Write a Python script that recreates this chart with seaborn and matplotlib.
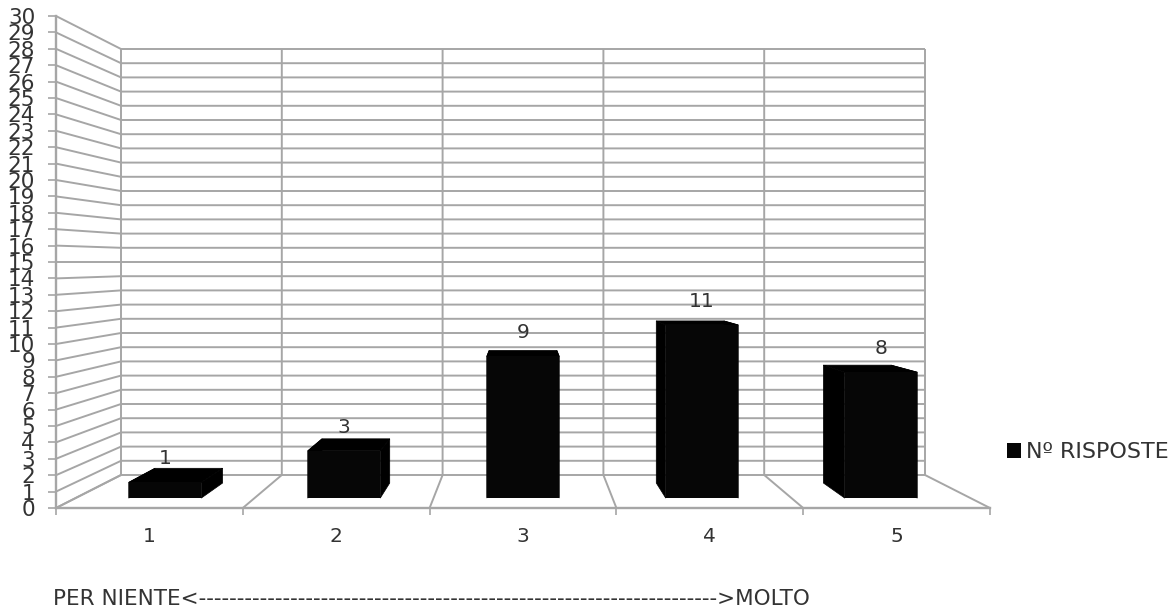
import matplotlib
matplotlib.use("Agg")
import matplotlib.pyplot as plt
import pandas as pd
import seaborn as sns

categories = ["1", "2", "3", "4", "5"]
risposte = [1, 3, 9, 11, 8]
y_ticks = list(range(0, 31))
series_name = "Nº RISPOSTE"
scale_text = "PER NIENTE<" + "-" * 68 + ">MOLTO"

W, H = 1173, 612
GRID = "#a6a6a6"
TEXT = "#333333"

# floor and walls in pixels: front edge of the floor, back wall
FRONT_L, FRONT_R, FRONT_Y0, FRONT_TOP = 56, 990, 508, 16
BACK_L, BACK_R, BACK_Y0, BACK_TOP = 121, 925, 475, 49
# depth of the bars between front edge (0) and back wall (1)
BAR_FRONT, BAR_BACK = 0.30, 0.757
BAR_WIDTH = 0.405


def plane(depth):
    left = FRONT_L + (BACK_L - FRONT_L) * depth
    right = FRONT_R + (BACK_R - FRONT_R) * depth
    y0 = FRONT_Y0 + (BACK_Y0 - FRONT_Y0) * depth
    top = FRONT_TOP + (BACK_TOP - FRONT_TOP) * depth
    return left, right, y0, (y0 - top) / 30


def axes_for(depth):
    left, right, y0, per_unit = plane(depth)
    return [left / W, (H - y0) / H, (right - left) / W, per_unit * 30 / H]


def project(pos, value, depth):
    # category position and value at some depth, back to bar axes data
    left, right, y0, per_unit = plane(depth)
    px = left + (pos + 0.5) / 5 * (right - left)
    py = y0 - value * per_unit
    f_left, f_right, f_y0, f_unit = plane(BAR_FRONT)
    return (px - f_left) / (f_right - f_left) * 5 - 0.5, (f_y0 - py) / f_unit


sns.set_style("white")
plt.rcParams["font.family"] = ["DejaVu Sans"]
fig = plt.figure(figsize=(W / 100, H / 100), dpi=100)

# outer frame: the value axis and the category axis
frame = fig.add_axes(axes_for(0))
frame.patch.set_visible(False)
frame.set_xlim(-0.5, 4.5)
frame.set_ylim(0, 30)
frame.set_yticks(y_ticks)
frame.set_xticks(range(5), categories)
frame.set_xticks([k - 0.5 for k in range(6)], minor=True)
frame.tick_params(axis="y", length=6, width=1.2, color=GRID, labelsize=15.5, pad=9, labelcolor=TEXT, left=True)
frame.tick_params(axis="x", which="major", length=0, labelsize=14.5, pad=14, labelcolor=TEXT)
frame.tick_params(axis="x", which="minor", length=5, width=1.2, color=GRID, bottom=True)
for name, spine in frame.spines.items():
    spine.set_visible(name in ("left", "bottom"))
    spine.set_color(GRID)
    spine.set_linewidth(1.7)

# the bars' front faces
ax = fig.add_axes(axes_for(BAR_FRONT))
df = pd.DataFrame({"categoria": categories, "risposte": risposte})
sns.barplot(data=df, x="categoria", y="risposte", color="#060606", saturation=1, width=BAR_WIDTH,
            label=series_name, ax=ax, zorder=5, linewidth=0, edgecolor="none")
ax.set_xlim(-0.5, 4.5)
ax.set_ylim(0, 30)
ax.patch.set_visible(False)
ax.set_xticks([])
ax.set_yticks([])
ax.set_xlabel("")
ax.set_ylabel("")
sns.despine(ax=ax, left=True, bottom=True)


def wall_line(points):
    xs, ys = zip(*[project(*p) for p in points])
    ax.plot(xs, ys, color=GRID, lw=1.4, clip_on=False, zorder=1, solid_capstyle="butt")


# walls and floor
for v in y_ticks:
    wall_line([(-0.5, v, 0), (-0.5, v, 1), (4.5, v, 1)])
for k in range(6):
    wall_line([(k - 0.5, 0, 0), (k - 0.5, 0, 1), (k - 0.5, 30, 1)])

# sides and top of each bar, then its label
for i, v in enumerate(risposte):
    a, b = i - BAR_WIDTH / 2, i + BAR_WIDTH / 2
    faces = [
        [(a, 0, BAR_FRONT), (a, 0, BAR_BACK), (a, v, BAR_BACK), (a, v, BAR_FRONT)],
        [(b, 0, BAR_FRONT), (b, 0, BAR_BACK), (b, v, BAR_BACK), (b, v, BAR_FRONT)],
        [(a, v, BAR_FRONT), (a, v, BAR_BACK), (b, v, BAR_BACK), (b, v, BAR_FRONT)],
    ]
    for face in faces:
        ax.fill([project(*p)[0] for p in face], [project(*p)[1] for p in face],
                color="black", lw=0.5, clip_on=False, zorder=3)
    ax.text(i, v + 1.5, str(v), ha="center", va="center", fontsize=14.5, color=TEXT, zorder=6)

leg = ax.legend(loc="center left", bbox_to_anchor=(1007 / W, (H - 452) / H), bbox_transform=fig.transFigure,
                frameon=False, fontsize=16, handlelength=0.65, handleheight=0.65, handletextpad=0.2,
                borderpad=0, borderaxespad=0, labelcolor=TEXT)

fig.text(53 / W, (H - 599) / H, scale_text, ha="left", va="center", fontsize=15.5, color=TEXT)

fig.savefig("out.png", dpi=100)
